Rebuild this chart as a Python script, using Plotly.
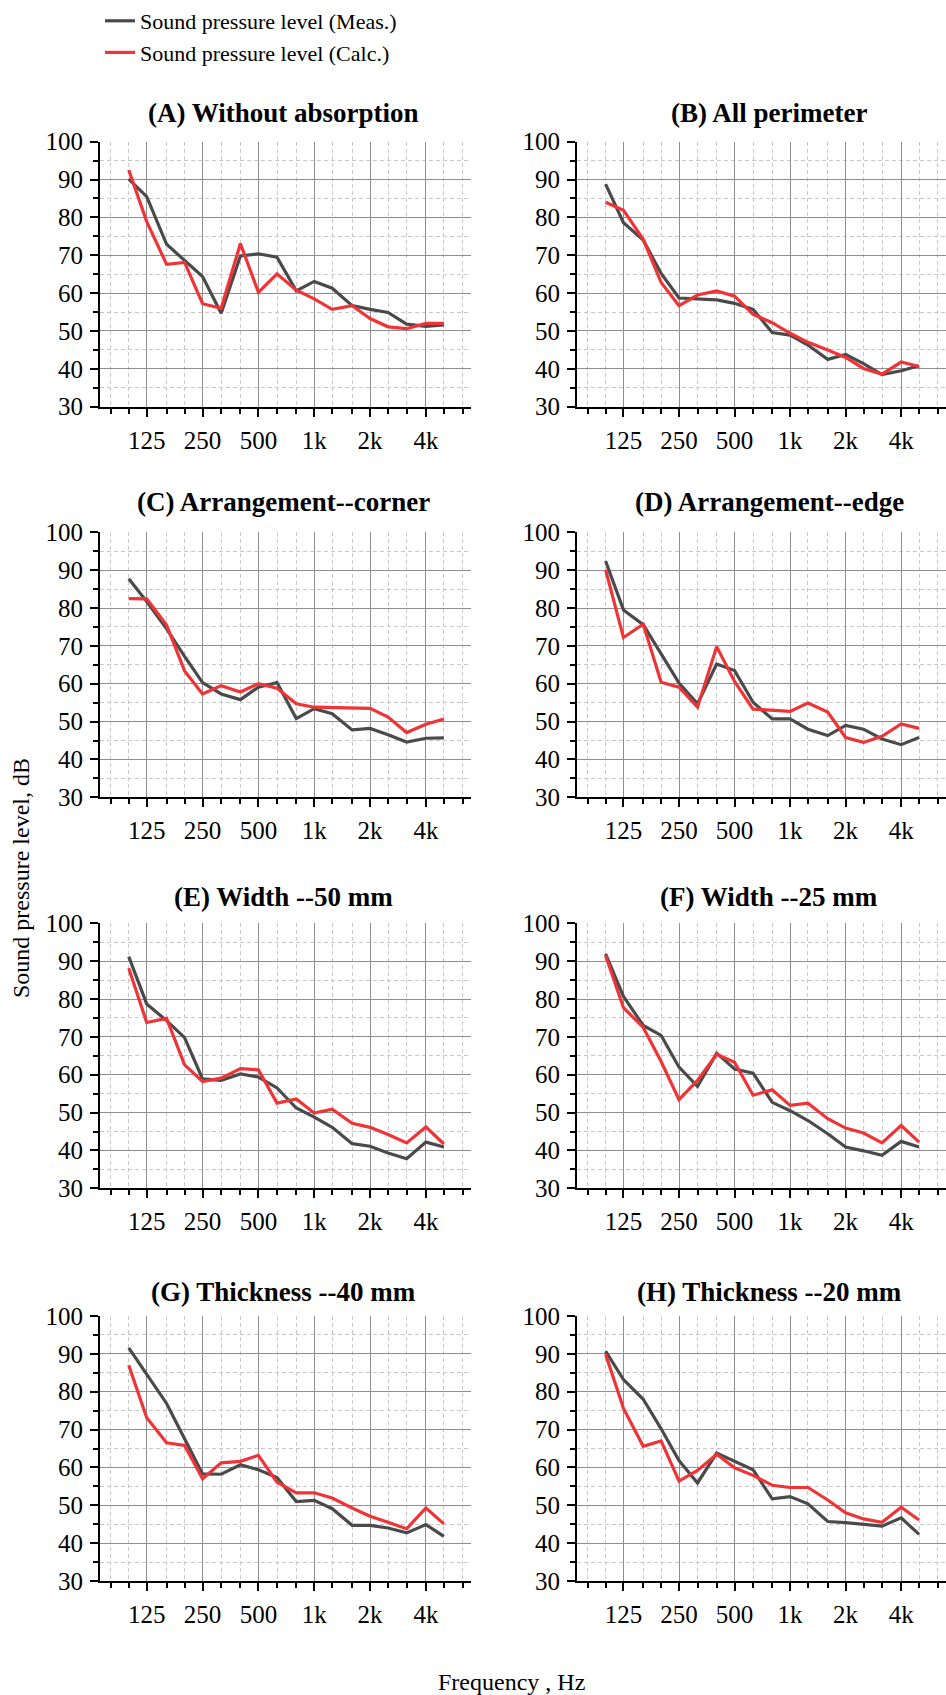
import math
import plotly.graph_objects as go

# ---------------- data ----------------
freqs = [100, 125, 160, 200, 250, 315, 400, 500, 630, 800,
         1000, 1250, 1600, 2000, 2500, 3150, 4000, 5000]
tick_vals = [125, 250, 500, 1000, 2000, 4000]
tick_text = ["125", "250", "500", "1k", "2k", "4k"]
minor_x = [80, 100, 160, 200, 315, 400, 630, 800, 1250, 1600, 2500, 3150, 5000, 6300]
y_ticks = [30, 40, 50, 60, 70, 80, 90, 100]
minor_y = [35, 45, 55, 65, 75, 85, 95]

titles = ["(A) Without absorption", "(B) All perimeter",
          "(C) Arrangement--corner", "(D) Arrangement--edge",
          "(E) Width --50 mm", "(F) Width --25 mm",
          "(G) Thickness --40 mm", "(H) Thickness --20 mm"]

meas_A = [90.1, 85.5, 72.9, 68.6, 64.4, 54.7, 69.8, 70.4, 69.5, 60.6, 63.1, 61.3, 56.7, 55.7, 54.9, 51.8, 51.2, 51.6]
calc_A = [92.5, 78.9, 67.6, 68.1, 57.2, 56.0, 73.1, 60.2, 65.1, 60.8, 58.5, 55.7, 56.7, 53.3, 51.1, 50.6, 52.0, 52.0]
meas_B = [88.8, 78.6, 74.0, 65.2, 58.7, 58.4, 58.2, 57.3, 55.7, 49.6, 48.9, 46.3, 42.5, 43.8, 41.4, 38.5, 39.5, 40.8]
calc_B = [84.0, 81.9, 74.2, 62.8, 56.7, 59.5, 60.6, 59.2, 54.4, 52.2, 49.4, 47.0, 45.0, 43.0, 40.1, 38.6, 41.8, 40.6]
meas_C = [87.7, 81.7, 74.5, 67.2, 60.3, 57.3, 55.8, 59.1, 60.3, 50.8, 53.4, 52.1, 47.8, 48.2, 46.5, 44.6, 45.6, 45.7]
calc_C = [82.5, 82.4, 75.5, 63.4, 57.3, 59.5, 57.8, 60.0, 58.8, 54.7, 53.8, 53.7, 53.6, 53.5, 51.2, 47.1, 49.3, 50.7]
meas_D = [92.4, 79.5, 75.6, 67.9, 60.2, 54.7, 65.2, 63.5, 55.1, 50.7, 50.7, 48.0, 46.3, 49.0, 48.0, 45.4, 43.9, 45.8]
calc_D = [90.1, 72.2, 75.7, 60.4, 59.1, 53.8, 69.8, 60.6, 53.3, 53.1, 52.7, 54.9, 52.5, 45.8, 44.5, 46.1, 49.4, 48.2]
meas_E = [91.2, 78.7, 74.3, 69.8, 58.9, 58.5, 60.2, 59.4, 56.5, 51.2, 48.8, 46.1, 41.8, 41.1, 39.3, 37.8, 42.2, 40.9]
calc_E = [88.1, 73.8, 74.9, 62.6, 58.2, 59.1, 61.6, 61.3, 52.5, 53.6, 49.9, 50.9, 47.2, 46.1, 44.2, 42.0, 46.2, 41.7]
meas_F = [91.9, 80.7, 73.0, 70.4, 62.0, 56.9, 65.7, 61.5, 60.4, 52.7, 50.5, 47.9, 44.4, 40.9, 39.9, 38.7, 42.4, 40.9]
calc_F = [91.5, 77.7, 72.5, 63.5, 53.4, 58.5, 65.4, 63.3, 54.6, 56.0, 51.9, 52.5, 48.4, 45.9, 44.6, 42.0, 46.6, 42.2]
meas_G = [91.6, 84.6, 76.9, 67.6, 58.3, 58.2, 60.7, 59.4, 57.3, 51.0, 51.3, 49.1, 44.7, 44.7, 44.0, 42.7, 44.9, 41.8]
calc_G = [87.0, 73.1, 66.5, 65.8, 57.0, 61.2, 61.6, 63.2, 56.1, 53.3, 53.3, 51.9, 49.3, 47.1, 45.5, 43.8, 49.3, 45.1]
meas_H = [90.7, 83.2, 78.0, 70.2, 61.8, 55.9, 63.8, 61.6, 59.4, 51.7, 52.3, 50.4, 45.7, 45.4, 44.9, 44.5, 46.7, 42.3]
calc_H = [89.9, 75.6, 65.6, 67.0, 56.4, 59.2, 63.5, 59.9, 57.9, 55.3, 54.7, 54.7, 51.4, 48.0, 46.4, 45.5, 49.5, 46.1]

meas_all = [meas_A, meas_B, meas_C, meas_D, meas_E, meas_F, meas_G, meas_H]
calc_all = [calc_A, calc_B, calc_C, calc_D, calc_E, calc_F, calc_G, calc_H]

meas_name = "Sound pressure level (Meas.)"
calc_name = "Sound pressure level (Calc.)"
x_title = "Frequency , Hz"
y_title = "Sound pressure level, dB"

# ---------------- layout geometry (pixels) ----------------
W, H = 946, 1695
FONT = "Liberation Serif"
MEAS_COLOR = "#4a4a4a"
CALC_COLOR = "#ef3438"
col_left = [100, 577]
plot_w = 371
row_top = [141.7, 532.3, 923.3, 1316.0]
plot_h = 265
title_y = [113, 502, 897, 1292]
title_x = [283, 769]

fig = go.Figure()
annotations = []

for i in range(8):
    r, c = divmod(i, 2)
    n = i + 1
    xa = "x" if n == 1 else f"x{n}"
    ya = "y" if n == 1 else f"y{n}"
    fig.add_trace(go.Scatter(x=freqs, y=meas_all[i], mode="lines", name=meas_name,
                             line=dict(color=MEAS_COLOR, width=3.2),
                             showlegend=(i == 0), legendrank=1,
                             xaxis=xa, yaxis=ya))
    fig.add_trace(go.Scatter(x=freqs, y=calc_all[i], mode="lines", name=calc_name,
                             line=dict(color=CALC_COLOR, width=3.2),
                             showlegend=(i == 0), legendrank=2,
                             xaxis=xa, yaxis=ya))
    x0 = col_left[c] / W
    x1 = min(1.0, (col_left[c] + plot_w) / W)
    y1 = 1 - row_top[r] / H
    y0 = 1 - (row_top[r] + plot_h) / H
    xkey = "xaxis" if n == 1 else f"xaxis{n}"
    ykey = "yaxis" if n == 1 else f"yaxis{n}"
    fig.layout[xkey] = dict(
        type="log", domain=[x0, x1], anchor=ya, automargin=False,
        range=[math.log10(70), math.log10(7000)],
        tickmode="array", tickvals=tick_vals, ticktext=tick_text,
        ticks="outside", ticklen=8, tickwidth=1.5, tickcolor="black",
        showline=True, linecolor="black", linewidth=2,
        showgrid=True, gridcolor="#8e8e8e", gridwidth=1,
        zeroline=False, mirror=False, ticklabelstandoff=2,
        tickfont=dict(family=FONT, size=25, color="black"),
        minor=dict(tickvals=minor_x, ticks="outside", ticklen=5, tickwidth=1.5,
                   tickcolor="black", showgrid=True, gridcolor="#c8c8c8",
                   griddash="4px,3px", gridwidth=1),
    )
    fig.layout[ykey] = dict(
        domain=[y0, y1], anchor=xa, range=[30, 100], automargin=False,
        tickmode="array", tickvals=y_ticks,
        ticks="outside", ticklen=8, tickwidth=1.5, tickcolor="black",
        showline=True, linecolor="black", linewidth=2,
        showgrid=True, gridcolor="#8e8e8e", gridwidth=1,
        zeroline=False, mirror=False, ticklabelstandoff=2,
        tickfont=dict(family=FONT, size=25, color="black"),
        minor=dict(tickvals=minor_y, ticks="outside", ticklen=5, tickwidth=1.5,
                   tickcolor="black", showgrid=True, gridcolor="#c8c8c8",
                   griddash="4px,3px", gridwidth=1),
    )
    annotations.append(dict(text=f"<b>{titles[i]}</b>", xref="paper", yref="paper",
                            x=title_x[c] / W, y=1 - title_y[r] / H,
                            xanchor="center", yanchor="middle", showarrow=False,
                            font=dict(family=FONT, size=27, color="black")))

annotations.append(dict(text=x_title, xref="paper", yref="paper",
                        x=511 / W, y=1 - 1682 / H, xanchor="center", yanchor="middle",
                        showarrow=False, font=dict(family=FONT, size=24, color="black")))
annotations.append(dict(text=y_title, xref="paper", yref="paper", textangle=-90,
                        x=21 / W, y=1 - 878 / H, xanchor="center", yanchor="middle",
                        showarrow=False, font=dict(family=FONT, size=24, color="black")))

fig.update_layout(
    width=W, height=H, margin=dict(l=0, r=0, t=0, b=0, autoexpand=False),
    paper_bgcolor="white", plot_bgcolor="white",
    annotations=annotations,
    showlegend=True,
    font=dict(family=FONT),
    legend=dict(x=100 / W, y=1.0, xanchor="left", yanchor="top",
                bgcolor="rgba(0,0,0,0)", borderwidth=0,
                font=dict(family=FONT, size=22, color="black"),
                tracegroupgap=0, itemwidth=30),
)

fig.write_html("out.html")
